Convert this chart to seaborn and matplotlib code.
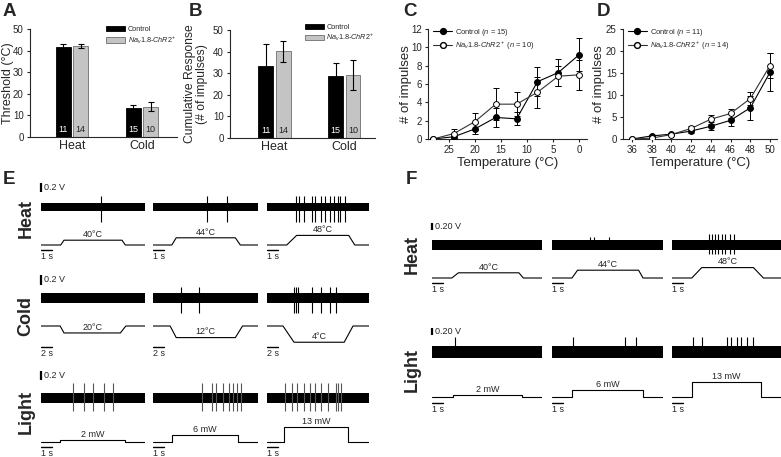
import numpy as np
import pandas as pd
import matplotlib
matplotlib.use("Agg")
import matplotlib.pyplot as plt
import seaborn as sns
from matplotlib.patches import Patch
from matplotlib.lines import Line2D

# ---------------- data ----------------
stim_groups = ["Heat", "Cold"]
genotypes = ["Control", "Nav"]
# order: heat control, heat nav, cold control, cold nav
thr_mean = [41.7, 42.2, 13.2, 14.0]
thr_sem = [1.3, 0.8, 1.5, 2.0]
cum_mean = [33.5, 40.2, 28.9, 29.1]
cum_sem = [9.8, 4.8, 5.6, 6.9]
n_cells = [11, 14, 15, 10]

cold_temps = [28, 24, 20, 16, 12, 8, 4, 0]
cold_ctrl = [0, 0.25, 1.1, 2.35, 2.2, 6.25, 7.25, 9.2]
cold_ctrl_sem = [0, 0.2, 0.6, 1.0, 0.7, 1.6, 1.45, 1.8]
cold_nav = [0, 0.6, 1.9, 3.8, 3.8, 5.1, 6.85, 7.0]
cold_nav_sem = [0, 0.5, 0.9, 1.75, 1.3, 1.7, 1.1, 1.65]

heat_temps = [36, 38, 40, 42, 44, 46, 48, 50]
heat_ctrl = [0, 0.7, 1.1, 1.8, 2.9, 4.25, 7.1, 15.2]
heat_ctrl_sem = [0, 0.15, 0.2, 0.5, 0.9, 1.4, 2.7, 4.4]
heat_nav = [0, 0.2, 1.0, 2.4, 4.5, 5.8, 9.2, 16.7]
heat_nav_sem = [0, 0.1, 0.2, 0.6, 1.0, 1.0, 1.5, 2.8]

# E: example recordings (time in s, stimulus in degC / mW, spikes in s)
e_heat_levels = [40, 44, 48]
e_heat_t = [[0, 1.8, 2.1, 7.4, 7.7, 9.5], [0, 1.7, 2.1, 7.45, 7.9, 9.5], [0, 1.8, 2.7, 7.45, 8.0, 9.3]]
e_heat_spikes = [[5.5], [4.9, 6.7],
                 [2.6, 2.9, 3.4, 4.1, 4.4, 4.9, 5.3, 5.7, 6.1, 6.5, 6.7, 7.1]]
e_cold_levels = [20, 12, 4]
e_cold_t = [[0, 3.5, 4.2, 14.5, 15.5, 19], [0, 3.1, 4.2, 14.9, 16.2, 19], [0, 2.9, 4.9, 14.0, 15.6, 18.5]]
e_cold_spikes = [[], [5.1, 8.4], [4.9, 5.2, 5.6, 8.1, 9.8, 11.5, 12.5]]
e_light_levels = [2, 6, 13]
e_light_on = [[1.7, 7.7], [1.7, 7.7], [1.55, 7.55]]
e_light_spikes = [[2.9, 3.9, 4.75, 5.8, 6.6],
                  [4.4, 5.3, 5.7, 6.3, 6.9, 7.2, 7.6, 8.0],
                  [1.65, 2.3, 2.8, 3.4, 4.0, 4.5, 5.0, 5.7, 6.4, 6.6, 6.9]]

# F
f_heat_levels = [40, 44, 48]
f_heat_t = [[0, 1.8, 2.4, 7.9, 8.3, 10], [0, 1.8, 2.3, 7.8, 8.2, 10], [0, 1.8, 2.7, 7.4, 8.3, 9.9]]
f_heat_spikes = [[], [3.4, 3.8, 5.1], [3.4, 3.6, 3.9, 4.2, 4.5, 4.8, 5.3, 5.6]]
f_heat_amp = [(0.1, 0.05), (0.22, 0.1), (0.31, 0.26)]   # spike up / down (V)
f_light_levels = [2, 6, 13]
f_light_on = [[1.9, 8.2], [1.8, 8.2], [1.8, 8.1]]
f_light_spikes = [[2.1], [1.9, 6.6, 7.6], [1.9, 2.7, 5.0, 5.4, 5.9, 6.3, 6.8, 7.4]]

# ---------------- style ----------------
sns.set_style("ticks")
plt.rcParams["font.family"] = ["Liberation Sans", "DejaVu Sans"]
plt.rcParams["mathtext.fontset"] = "custom"
plt.rcParams["mathtext.rm"] = "Liberation Sans"
plt.rcParams["mathtext.it"] = "Liberation Sans:italic"
plt.rcParams["axes.linewidth"] = 0.8

W, H = 781, 457
fig = plt.figure(figsize=(W / 100, H / 100), dpi=100)

NAV = r"$\mathit{Na_v1.8}$-$\mathit{ChR2^+}$"


def px_axes(x0, y0, x1, y1):
    return fig.add_axes([x0 / W, 1 - y1 / H, (x1 - x0) / W, (y1 - y0) / H])


def bar_panel(box, means, sems, ylabel, xlim, leg_x, leg_y, ylab_x, ylab_size=9):
    ax = px_axes(*box)
    df = pd.DataFrame({"stimulus": np.repeat(stim_groups, 2),
                       "genotype": genotypes * 2, "value": means})
    sns.barplot(data=df, x="stimulus", y="value", hue="genotype", hue_order=genotypes,
                palette=["black", "#c4c4c4"], width=0.5, gap=0.15, errorbar=None,
                legend=False, linewidth=0.6, ax=ax)
    bars = sorted(ax.patches, key=lambda p: p.get_x())
    xs = [b.get_x() + b.get_width() / 2 for b in bars]
    for b, ec in zip(bars, ["black", "#6e6e6e"] * 2):
        b.set_edgecolor(ec)
    ax.errorbar(xs, means, yerr=sems, fmt="none", ecolor="k", elinewidth=0.8,
                capsize=2.5, capthick=0.8, zorder=3)
    for x, n, c in zip(xs, n_cells, ["white", "#222222"] * 2):
        ax.text(x, 3.3, str(n), ha="center", va="center", color=c, fontsize=6.5)
    ax.set_xlim(*xlim)
    ax.set_ylim(0, 50)
    ax.set_yticks(range(0, 51, 10))
    ax.set_xlabel("")
    ax.set_ylabel(ylabel, fontsize=ylab_size, linespacing=1.0)
    ax.yaxis.set_label_coords(ylab_x, 0.5)
    ax.tick_params(axis="x", length=0, labelsize=9, pad=2)
    ax.tick_params(axis="y", length=2.5, labelsize=7, pad=2, width=0.8)
    sns.despine(ax=ax)
    handles = [Patch(facecolor="black", edgecolor="black", lw=0.6),
               Patch(facecolor="#c4c4c4", edgecolor="#6e6e6e", lw=0.6)]
    ax.legend(handles, ["Control", NAV], loc="upper left", bbox_to_anchor=(leg_x, leg_y),
              frameon=False, fontsize=5.2, handlelength=2.6, handleheight=0.8,
              handletextpad=0.35, labelspacing=0.15, borderpad=0, borderaxespad=0)
    return ax


def line_panel(box, temps, ctrl, ctrl_sem, nav, nav_sem, ylim, yticks, xlim, xticks,
               n_ctrl, n_nav, ylab_x):
    ax = px_axes(*box)
    ax.errorbar(temps, ctrl, yerr=ctrl_sem, fmt="none", ecolor="k", elinewidth=0.7,
                capsize=2, capthick=0.7, zorder=2)
    ax.errorbar(temps, nav, yerr=nav_sem, fmt="none", ecolor="k", elinewidth=0.7,
                capsize=2, capthick=0.7, zorder=2)
    sns.lineplot(x=temps, y=ctrl, color="k", lw=0.8, marker="o", markersize=4.2,
                 markerfacecolor="k", markeredgecolor="k", sort=False, zorder=3, ax=ax)
    sns.lineplot(x=temps, y=nav, color="#333333", lw=0.8, marker="o", markersize=4.2,
                 markerfacecolor="white", markeredgecolor="k", markeredgewidth=0.7,
                 sort=False, zorder=4, ax=ax)
    ax.set_xlim(*xlim)
    ax.set_ylim(*ylim)
    ax.set_xticks(xticks)
    ax.set_yticks(yticks)
    ax.set_xlabel("Temperature (\u00b0C)", fontsize=9.5, labelpad=1)
    ax.set_ylabel("# of impulses", fontsize=9.5)
    ax.yaxis.set_label_coords(ylab_x, 0.5)
    ax.tick_params(length=2.5, labelsize=7, pad=2, width=0.8)
    sns.despine(ax=ax)
    handles = [Line2D([0], [0], color="k", lw=0.8, marker="o", ms=4.2, mfc="k"),
               Line2D([0], [0], color="#333333", lw=0.8, marker="o", ms=4.2, mfc="white", mec="k")]
    labels = [r"Control ($\mathit{n}$ = %d)" % n_ctrl, NAV + r" ($\mathit{n}$ = %d)" % n_nav]
    ax.legend(handles, labels, loc="upper left", bbox_to_anchor=(0.03, 1.02), frameon=False,
              fontsize=5.4, handlelength=2.6, handletextpad=0.4, labelspacing=0.25,
              borderpad=0, borderaxespad=0)
    return ax


def trace_cell(x0, x1, center, k, dur, noise, spikes, up, down, spike_color="k", bar=None):
    ax = px_axes(x0, center - 30, x1, center + 18)
    ax.set_xlim(0, dur)
    ax.set_ylim(-18 / k, 30 / k)
    ax.axis("off")
    ax.fill_between([0, dur], -noise, noise, color="k", lw=0)
    if spikes:
        ax.vlines(spikes, -down, up, color=spike_color, lw=0.8)
    if bar is not None:
        b0, b1, txt = bar
        ax.plot([0, 0], [b0, b1], color="k", lw=1.6, solid_capstyle="butt", clip_on=False)
        ax.annotate(txt, (0, (b0 + b1) / 2), xytext=(2, 0), textcoords="offset points",
                    ha="left", va="center", fontsize=6.5)
    return ax


def stim_cell(x0, x1, base_y, ppu, dur, times, levels, label, bar_len=None, bar_txt="",
              bar_dy=5):
    ax = px_axes(x0, base_y - 24, x1, base_y + 34)
    base = levels[0]
    ax.set_xlim(0, dur)
    ax.set_ylim(base - 34 / ppu, base + 24 / ppu)
    ax.axis("off")
    ax.plot(times, levels, color="k", lw=0.8)
    mid = (times[2] + times[3]) / 2
    ax.annotate(label, (mid, levels[2]), xytext=(0, 0.8), textcoords="offset points",
                ha="center", va="bottom", fontsize=6.5)
    if bar_len:
        yb = base - bar_dy / ppu
        ax.plot([0, bar_len], [yb, yb], color="k", lw=1.0)
        ax.annotate(bar_txt, (0, yb), xytext=(0, -1.5), textcoords="offset points",
                    ha="left", va="top", fontsize=6.5)
    return ax


# ---------------- panels A-D ----------------
bar_panel((30, 29, 177, 137), thr_mean, thr_sem, "Threshold (\u00b0C)", (-0.6, 1.5),
          0.52, 1.03, -0.11)
bar_panel((230, 30, 375, 138), cum_mean, cum_sem, "Cumulative Response\n(# of impulses)",
          (-0.64, 1.44), 0.517, 1.06, -0.155, ylab_size=8.7)
line_panel((428, 29, 587, 139), cold_temps, cold_ctrl, cold_ctrl_sem, cold_nav, cold_nav_sem,
           (0, 12), range(0, 13, 2), (29, -1.5), [25, 20, 15, 10, 5, 0], 15, 10, -0.10)
line_panel((623, 29, 777, 139), heat_temps, heat_ctrl, heat_ctrl_sem, heat_nav, heat_nav_sem,
           (0, 25), range(0, 26, 5), (35.1, 50.7), range(36, 51, 2), 11, 14, -0.117)

# ---------------- panel E ----------------
e_cols = [(41, 145), (153, 258), (267, 369)]
for i, (x0, x1) in enumerate(e_cols):
    first = i == 0
    trace_cell(x0, x1, 207, 45, e_heat_t[i][-1], 0.09, e_heat_spikes[i], 0.24, 0.33,
               bar=(0.34, 0.54, "0.2 V") if first else None)
    stim_cell(x0, x1, 245, 0.6, e_heat_t[i][-1], e_heat_t[i],
              [32, 32, e_heat_levels[i], e_heat_levels[i], 32, 32],
              "%d\u00b0C" % e_heat_levels[i], 1, "1 s")
    trace_cell(x0, x1, 298, 45, e_cold_t[i][-1], 0.11, e_cold_spikes[i], 0.25, 0.33,
               bar=(0.3, 0.51, "0.2 V") if first else None)
    stim_cell(x0, x1, 326, 0.58, e_cold_t[i][-1], e_cold_t[i],
              [32, 32, e_cold_levels[i], e_cold_levels[i], 32, 32],
              "%d\u00b0C" % e_cold_levels[i], 2, "2 s", bar_dy=21)
    on, off = e_light_on[i]
    trace_cell(x0, x1, 398, 45, 9.5, 0.11, e_light_spikes[i], 0.34, 0.29,
               spike_color="#555555", bar=(0.4, 0.6, "0.2 V") if first else None)
    stim_cell(x0, x1, 442, 1.15, 9.5, [0, on, on, off, off, 9.5],
              [0, 0, e_light_levels[i], e_light_levels[i], 0, 0],
              "%d mW" % e_light_levels[i], 1, "1 s")

# ---------------- panel F ----------------
f_cols = [(432, 542), (552, 663), (672, 781)]
for i, (x0, x1) in enumerate(f_cols):
    first = i == 0
    up, down = f_heat_amp[i]
    dur = f_heat_t[i][-1]
    trace_cell(x0, x1, 245, 35, dur, 0.14, f_heat_spikes[i], up, down,
               bar=(0.43, 0.63, "0.20 V") if first else None)
    stim_cell(x0, x1, 278, 0.65, dur, f_heat_t[i],
              [32, 32, f_heat_levels[i], f_heat_levels[i], 32, 32],
              "%d\u00b0C" % f_heat_levels[i], 1, "1 s")
    on, off = f_light_on[i]
    trace_cell(x0, x1, 352, 35, dur, 0.16, f_light_spikes[i], 0.42, 0.12,
               bar=(0.5, 0.7, "0.20 V") if first else None)
    stim_cell(x0, x1, 397, 1.15, dur, [0, on, on, off, off, dur],
              [0, 0, f_light_levels[i], f_light_levels[i], 0, 0],
              "%d mW" % f_light_levels[i], 1, "1 s", bar_dy=6)

# ---------------- labels ----------------
for letter, x, y in [("A", 3, 11), ("B", 189, 11), ("C", 403, 11), ("D", 597, 11),
                     ("E", 3, 179), ("F", 406, 179)]:
    fig.text(x / W, 1 - y / H, letter, fontsize=13.5, fontweight="bold", va="center", ha="left")
for word, x, y in [("Heat", 26, 218), ("Cold", 26, 316), ("Light", 26, 412),
                   ("Heat", 412, 255), ("Light", 412, 370)]:
    fig.text(x / W, 1 - y / H, word, fontsize=13, fontweight="bold", rotation=90,
             va="center", ha="center")

fig.savefig("out.png", dpi=100)
